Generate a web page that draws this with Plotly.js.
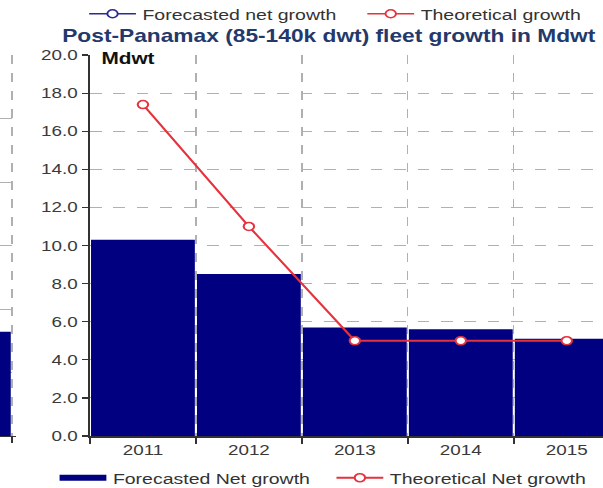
<!DOCTYPE html>
<html>
<head>
<meta charset="utf-8">
<script src="https://cdn.plot.ly/plotly-3.0.1.min.js"></script>
<style>
  html, body { margin: 0; padding: 0; background: #fff; overflow: hidden; }
  /* the chart is laid out narrow and widened horizontally */
  #chart { width: 464px; height: 488px; transform: scaleX(1.3); transform-origin: 0 0; }
</style>
</head>
<body>
<div id="chart"></div>
<script>
// Post-Panamax fleet growth, Mdwt
const years = ['2011', '2012', '2013', '2014', '2015'];
const forecastNet = [10.3, 8.5, 5.7, 5.6, 5.1];
const theoreticalNet = [17.4, 11.0, 5.0, 5.0, 5.0];

// last bar of the neighbouring panel on the left
const leftPanelX = [0];
const leftPanelValue = [8.2];

const yTicks = [0, 2, 4, 6, 8, 10, 12, 14, 16, 18, 20];

const NAVY = '#000080';
const RED = '#e5323c';
const GRID = '#b0b0b0';
const FONT = 'Liberation Sans, Arial, sans-serif';

const traces = [
  {
    type: 'bar', x: years, y: forecastNet, name: 'Forecasted Net growth',
    marker: { color: NAVY, line: { width: 0 } }, showlegend: false,
    xaxis: 'x', yaxis: 'y', hoverinfo: 'skip'
  },
  {
    type: 'scatter', mode: 'lines+markers', x: years, y: theoreticalNet,
    name: 'Theoretical Net growth', legend: 'legend', legendrank: 2,
    line: { color: RED, width: 1.8 },
    marker: { symbol: 'circle', size: 8, color: '#fff', line: { color: RED, width: 1.6 } },
    xaxis: 'x', yaxis: 'y'
  },
  {
    type: 'bar', x: leftPanelX, y: leftPanelValue, width: [0.94],
    marker: { color: NAVY }, showlegend: false, xaxis: 'x2', yaxis: 'y2'
  },
  // legend-only entries
  {
    type: 'scatter', mode: 'lines', x: [null], y: [null], name: 'Forecasted Net growth',
    legend: 'legend', legendrank: 1, line: { color: NAVY, width: 6 }, xaxis: 'x', yaxis: 'y'
  },
  {
    type: 'scatter', mode: 'lines+markers', x: [null], y: [null], name: 'Forecasted net growth',
    legend: 'legend2', line: { color: '#2b2b90', width: 1.5 },
    marker: { symbol: 'circle', size: 8, color: '#fff', line: { color: '#2b2b90', width: 1.5 } },
    xaxis: 'x', yaxis: 'y'
  },
  {
    type: 'scatter', mode: 'lines+markers', x: [null], y: [null], name: 'Theoretical growth',
    legend: 'legend2', line: { color: RED, width: 1.5 },
    marker: { symbol: 'circle', size: 8, color: '#fff', line: { color: RED, width: 1.5 } },
    xaxis: 'x', yaxis: 'y'
  }
];

const layout = {
  width: 464, height: 488,
  margin: { l: 0, r: 0, t: 55, b: 52 },
  paper_bgcolor: '#fff', plot_bgcolor: '#fff',
  font: { family: FONT, size: 15, color: '#3a3a3a' },
  bargap: 0.02,
  title: {
    text: 'Post-Panamax (85-140k dwt) fleet growth in Mdwt',
    font: { family: FONT, size: 17.5, color: '#24396b', weight: 'bold' },
    xref: 'container', x: 0.545, xanchor: 'center',
    yref: 'container', y: 1 - 36 / 488, yanchor: 'middle'
  },
  xaxis: {
    domain: [69.2 / 464, 1], type: 'category', range: [-0.5, 4.344],
    tickson: 'boundaries', ticks: 'outside', ticklen: 6, tickcolor: '#333', tickwidth: 1.2,
    showgrid: true, gridcolor: GRID, griddash: 'dash', gridwidth: 1,
    showline: true, linecolor: '#333', linewidth: 1.5,
    tickfont: { size: 14.5, color: '#3a3a3a' }, fixedrange: true
  },
  yaxis: {
    range: [0, 20], tickvals: yTicks, tickformat: '.1f',
    ticks: 'outside', ticklen: 5, tickcolor: '#333', tickwidth: 1.2,
    showgrid: true, gridcolor: GRID, griddash: 'dash', gridwidth: 1,
    showline: true, linecolor: '#333', linewidth: 1.5, zeroline: false,
    tickfont: { size: 14.5, color: '#3a3a3a' }, fixedrange: true
  },
  xaxis2: {
    domain: [0, 12 / 464], anchor: 'y2', range: [0.2, 0.591],
    tickvals: [0.5], ticks: 'outside', ticklen: 6, tickcolor: '#333',
    showticklabels: false, showgrid: true, gridcolor: GRID, griddash: 'dash',
    showline: true, linecolor: '#333', linewidth: 1.2, zeroline: false
  },
  yaxis2: {
    anchor: 'x2', range: [0, 30], dtick: 5, showticklabels: false,
    showgrid: true, gridcolor: GRID, griddash: 'dash', zeroline: false, showline: false
  },
  legend: {
    orientation: 'h', xref: 'container', yref: 'container',
    x: 0.088, y: 1 - 478 / 488, xanchor: 'left', yanchor: 'middle',
    itemwidth: 36, entrywidth: 162, traceorder: 'normal',
    font: { family: FONT, size: 15, color: '#333' }, bgcolor: 'rgba(0,0,0,0)'
  },
  legend2: {
    orientation: 'h', xref: 'container', yref: 'container',
    x: 0.137, y: 1 - 14 / 488, xanchor: 'left', yanchor: 'middle',
    itemwidth: 36, entrywidth: 163, traceorder: 'normal',
    font: { family: FONT, size: 15, color: '#333' }, bgcolor: 'rgba(0,0,0,0)'
  },
  annotations: [{
    text: '<b>Mdwt</b>', xref: 'x domain', yref: 'y domain', x: 0, y: 1,
    xanchor: 'left', yanchor: 'middle', xshift: 7, yshift: -3, showarrow: false,
    font: { family: FONT, size: 16, color: '#111' }
  }]
};

Plotly.newPlot('chart', traces, layout, { displayModeBar: false, staticPlot: true });
</script>
</body>
</html>
